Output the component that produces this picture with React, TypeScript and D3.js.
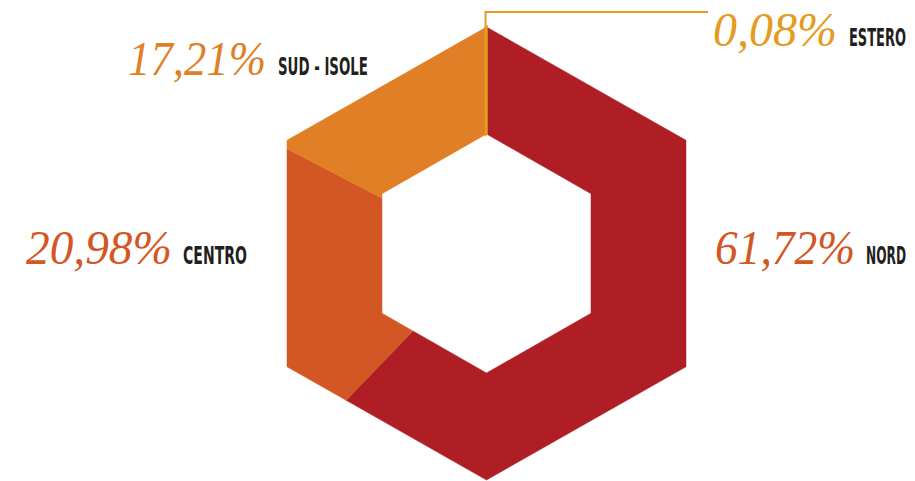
import React, { useEffect, useRef } from "react";
import * as d3 from "d3";

const categories = ["NORD", "CENTRO", "SUD - ISOLE", "ESTERO"];
const values = [61.72, 20.98, 17.21, 0.08];
const sliceColors = ["#AE1E24", "#D35724", "#E07F26", "#E49B20"];
const pctColors = ["#D35724", "#D35724", "#E07F26", "#E49B20"];

// label layout: [pctX, baseline, pctWidth, nameX, nameWidth]
const labelLayout = [
  [715, 264, 140, 866, 40],
  [26, 264, 146, 183, 64],
  [128, 75, 138, 278, 90],
  [713, 46, 124, 849, 57],
];

const W = 915;
const H = 481;
const cx = 486.5;
const cy = 253.5;
const outerR = 226.5;
const outerW = 199.5;
const innerR = 119.5;
const innerW = 104.5;

function hexPoint(t: number, R: number, Wd: number): [number, number] {
  const verts: [number, number][] = [
    [0, -R],
    [Wd, -R / 2],
    [Wd, R / 2],
    [0, R],
    [-Wd, R / 2],
    [-Wd, -R / 2],
  ];
  const s = (((t % 1) + 1) % 1) * 6;
  let k = Math.floor(s);
  if (k > 5) k = 5;
  const f = s - k;
  const a = verts[k];
  const b = verts[(k + 1) % 6];
  return [cx + a[0] + (b[0] - a[0]) * f, cy + a[1] + (b[1] - a[1]) * f];
}

function arcPoints(t0: number, t1: number, R: number, Wd: number): [number, number][] {
  const pts: [number, number][] = [hexPoint(t0, R, Wd)];
  for (let k = 1; k < 6; k++) {
    const v = k / 6;
    if (v > t0 && v < t1) pts.push(hexPoint(v, R, Wd));
  }
  if (t1 >= 1) pts.push([cx, cy - R]);
  else pts.push(hexPoint(t1, R, Wd));
  return pts;
}

export default function App() {
  const ref = useRef<SVGSVGElement>(null);

  useEffect(() => {
    document.body.style.margin = "0";
    const svg = d3.select(ref.current);
    svg.selectAll("*").remove();

    const pie = d3
      .pie<number>()
      .sort(null)
      .startAngle(0)
      .endAngle(2 * Math.PI)
      .value((d) => d);
    const arcs = pie(values);
    const toT = d3.scaleLinear().domain([0, 2 * Math.PI]).range([0, 1]);

    const g = svg.append("g");
    arcs.forEach((a, i) => {
      const t0 = toT(a.startAngle);
      const t1 = toT(a.endAngle);
      const outer = arcPoints(t0, t1, outerR, outerW);
      const inner = arcPoints(t0, t1, innerR, innerW).reverse();
      const poly = outer.concat(inner);
      g.append("path")
        .attr("d", d3.line()(poly) + "Z")
        .attr("fill", sliceColors[i])
        .attr("stroke", sliceColors[i])
        .attr("stroke-width", i === 3 ? 2.5 : 0.5)
        .attr("stroke-linejoin", "miter");
    });

    // leader line for ESTERO
    const top = hexPoint(0, outerR, outerW);
    g.append("path")
      .attr("d", d3.line()([[top[0] - 1, top[1] + 2], [top[0] - 1, 12], [708, 12]]))
      .attr("fill", "none")
      .attr("stroke", sliceColors[3])
      .attr("stroke-width", 2);

    const fmt = (v: number) => v.toFixed(2).replace(".", ",") + "%";

    values.forEach((v, i) => {
      const [px, base, pw, nx, nw] = labelLayout[i];
      g.append("text")
        .attr("x", px)
        .attr("y", base)
        .attr("font-family", "'Liberation Serif', 'DejaVu Serif', serif")
        .attr("font-style", "italic")
        .attr("font-size", 48)
        .attr("fill", pctColors[i])
        .attr("textLength", pw)
        .attr("lengthAdjust", "spacingAndGlyphs")
        .text(fmt(v));
      g.append("text")
        .attr("x", nx + nw)
        .attr("y", base)
        .attr("text-anchor", "end")
        .attr("font-family", "'DejaVu Sans Condensed', 'DejaVu Sans', sans-serif")
        .attr("font-weight", "bold")
        .attr("font-size", 25)
        .attr("fill", "#231F20")
        .attr("textLength", nw)
        .attr("lengthAdjust", "spacingAndGlyphs")
        .text(categories[i]);
    });
  }, []);

  return (
    <svg
      ref={ref}
      width={W}
      height={H}
      style={{ position: "absolute", left: 0, top: 0, background: "#fff" }}
    />
  );
}
